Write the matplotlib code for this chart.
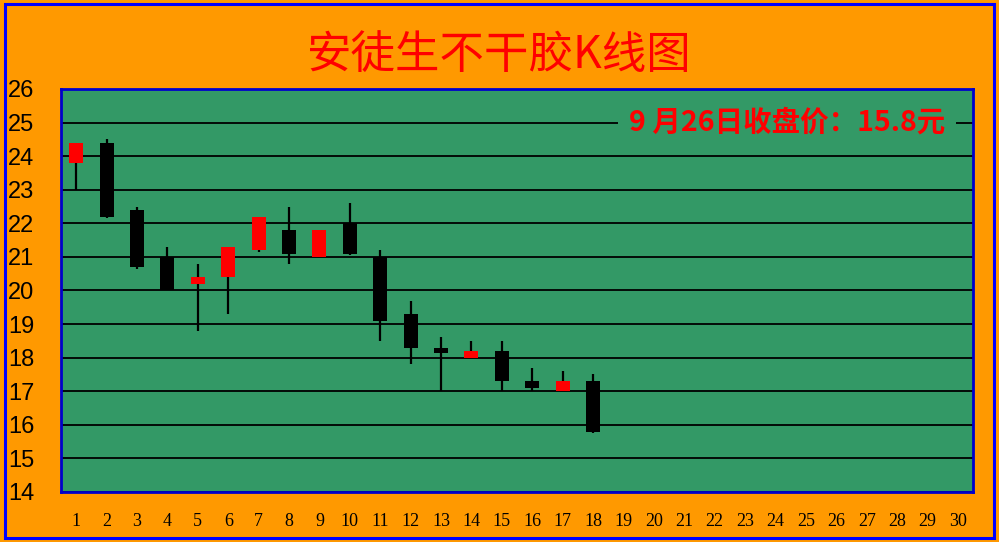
import matplotlib
matplotlib.use('Agg')
import matplotlib.pyplot as plt
from matplotlib.patches import Rectangle

plt.rcParams['font.family'] = ['Noto Sans CJK SC', 'DejaVu Sans']

# 日K数据
days = list(range(1, 19))
open_p = [23.8, 24.4, 22.4, 21.0, 20.2, 20.4, 21.2, 21.8, 21.0, 22.0, 21.0, 19.3, 18.3, 18.0, 18.2, 17.3, 17.0, 17.3]
close_p = [24.4, 22.2, 20.7, 20.0, 20.4, 21.3, 22.2, 21.1, 21.8, 21.1, 19.1, 18.3, 18.15, 18.2, 17.3, 17.1, 17.3, 15.8]
high_p = [24.4, 24.5, 22.5, 21.3, 20.8, 21.3, 22.2, 22.5, 21.8, 22.6, 21.2, 19.7, 18.6, 18.5, 18.5, 17.7, 17.6, 17.5]
low_p = [23.0, 22.15, 20.65, 20.0, 18.8, 19.3, 21.15, 20.8, 21.0, 21.05, 18.5, 17.8, 17.0, 18.0, 17.0, 17.0, 17.0, 15.75]
x_labels = [str(i) for i in range(1, 31)]
y_ticks = list(range(14, 27))
title = '安徒生不干胶K线图'
note = '9 月26日收盘价：15.8元'

fig = plt.figure(figsize=(9.99, 5.42), dpi=100, facecolor='#FF9900')
fig.patches.append(Rectangle((0.005, 0.008), 0.99, 0.984, transform=fig.transFigure,
                             fill=False, edgecolor='#0000FF', lw=2.2))
ax = fig.add_axes([0.0611, 0.0923, 0.913, 0.7435], facecolor='#339966')

colors = ['#FF0000' if c >= o else '#000000' for o, c in zip(open_p, close_p)]
ax.vlines(days, low_p, high_p, color='black', lw=1.6, zorder=2)
bottoms = [min(o, c) for o, c in zip(open_p, close_p)]
heights = [abs(c - o) for o, c in zip(open_p, close_p)]
ax.bar(days, heights, bottom=bottoms, width=0.46, color=colors, zorder=3)

ax.set_xlim(0.5, 30.5)
ax.set_ylim(14, 26)
ax.set_yticks(y_ticks)
ax.set_xticks(range(1, 31))
ax.set_xticklabels(x_labels, family='Liberation Serif', fontsize=13)
ax.set_yticklabels([str(v) for v in y_ticks], family='Liberation Sans', fontsize=17)
for lab in ax.get_yticklabels():
    lab.set_horizontalalignment('left')
ax.tick_params(axis='y', length=0, pad=38)
ax.tick_params(axis='x', length=0, pad=15)
ax.grid(axis='y', color='black', lw=1.3)
ax.set_axisbelow(True)
for s in ax.spines.values():
    s.set_color('#0000CC')
    s.set_linewidth(2)

ax.text(24.38, 25.0, note, color='#FF0000', fontsize=20.5, fontweight='bold',
        ha='center', va='center', zorder=4,
        bbox=dict(facecolor='#339966', edgecolor='none', pad=8))

fig.text(0.5, 0.898, title, color='#FF0000', fontsize=32, ha='center', va='center')

fig.savefig('out.png', dpi=100, facecolor=fig.get_facecolor())
